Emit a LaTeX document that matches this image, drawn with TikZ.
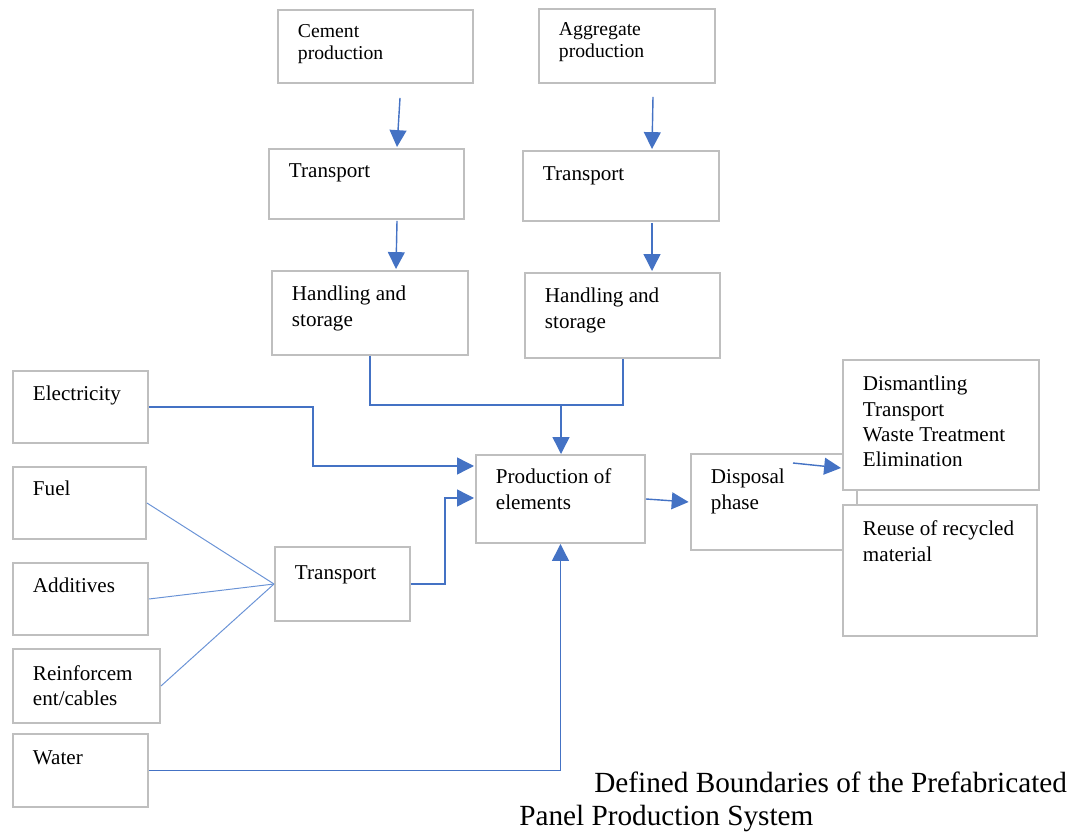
\documentclass[tikz,border=0pt]{standalone}
\usepackage{fontspec}
\setmainfont{Liberation Serif}
\usepackage{tikz}
\usetikzlibrary{%
  arrows.meta,% Triangle tips
  positioning,%
  calc
}
\definecolor{boxgray}{HTML}{BFBFBF}
\definecolor{flowblue}{HTML}{4472C4}
\definecolor{feedblue}{HTML}{6A93D6}

\newlength{\pxu}
\setlength{\pxu}{0.025cm}
% text of a box: [first baseline]{width}{height}{lines}
\newcommand{\boxtext}[4][30]{%
  \parbox[t][#3\pxu][t]{#2\pxu}{\raggedright\leftskip=20\pxu\rule{0pt}{#1\pxu}#4}}

\begin{document}
\begin{tikzpicture}[
  x=0.025cm, y=-0.025cm,
  font=\fontsize{15}{17.8}\selectfont, >={Triangle[length=12pt,width=12pt]},
  blk/.style={draw=boxgray, line width=1.4pt, fill=white, inner sep=0pt, anchor=north west},
  small/.style={font=\fontsize{14}{15.6}\selectfont},
  flow/.style={draw=flowblue, line width=1pt, ->},
  link/.style={draw=flowblue, line width=1pt},
  feed/.style={draw=feedblue, line width=0.7pt}
]
\useasboundingbox (0,0) rectangle (1070,831);

% raw materials
\node[blk,small] (cement) at (277,9) {\boxtext[28]{195}{73}{Cement\\production}};
\node[blk,small] (aggr) at (538,8) {\boxtext[27]{176}{74}{Aggregate\\production}};

\node[blk] (trans1) at (268,148) {\boxtext[29]{195}{70}{Transport}};
\node[blk] (trans2) at (522,150) {\boxtext[30]{196}{70}{Transport}};

\node[blk] (hand1) at (271,270) {\boxtext{196}{84}{Handling and\\storage}};
\node[blk] (hand2) at (524,272) {\boxtext{195}{85}{Handling and\\storage}};

% other inputs
\node[blk] (elec) at (12,370) {\boxtext{135}{72}{Electricity}};
\node[blk] (fuel) at (12,466) {\boxtext[29]{133}{72}{Fuel}};
\node[blk] (add) at (12,562) {\boxtext{135}{72}{Additives}};
\node[blk] (reinf) at (12,648) {\boxtext[31]{147}{74}{Reinforcem\\ent/cables}};
\node[blk] (water) at (12,733) {\boxtext{135}{73}{Water}};

\node[blk] (trans3) at (274,546) {\boxtext[32]{135}{74}{Transport}};

% production and end of life
\node[blk] (prod) at (475,454) {\boxtext[29]{169}{88}{Production of\\elements}};
\node[blk] (disp) at (690,453) {\boxtext{166}{96}{Disposal\\phase}};
\node[blk] (dism) at (842,359) {\boxtext[31]{196}{130}{Dismantling\\Transport\\Waste Treatment\\Elimination}};
\node[blk] (reuse) at (842,504) {\boxtext[31]{194}{131}{Reuse of recycled\\material}};

\node[anchor=base west, inner sep=0pt, font=\fontsize{20.8}{24}\selectfont] (caption) at (519,792)
  {\parbox[t]{560\pxu}{\hspace*{75\pxu}Defined Boundaries of the Prefabricated\\Panel Production System}};

% supply chains
\draw[flow] ([shift={(123,14)}]cement.south west) -- ([shift={(129,-1)}]trans1.north west);
\draw[flow] ([shift={(129,1)}]trans1.south west) -- ([shift={(125,-1)}]hand1.north west);
\draw[flow] ([shift={(115,13)}]aggr.south west) -- ([shift={(130,-1)}]trans2.north west);
\draw[flow] ([shift={(130,1)}]trans2.south west) -- ([shift={(128,-1)}]hand2.north west);

\coordinate (join) at (561,405);
\draw[link] ([shift={(99,0)}]hand1.south west) |- (join);
\draw[link] ([shift={(99,0)}]hand2.south west) |- (join);
\draw[flow] (join) -- (join |- prod.north);

\draw[flow] (elec.east) -- ++(164,0) |- ([shift={(-1,-33)}]prod.west);
\foreach \s in {fuel,add,reinf}
  \draw[feed] (\s.east) -- (trans3.west);
\draw[flow] (trans3.east) -- ++(34,0) |- ([shift={(-1,-1)}]prod.west);
\draw[flow] (water.east) -| (prod.south);

\draw[flow] (prod.east) -- ([xshift=-1]disp.west);
\draw[flow] ([shift={(103,10)}]disp.north west) -- ([shift={(-1,-23)}]dism.south west);
\end{tikzpicture}
\end{document}
